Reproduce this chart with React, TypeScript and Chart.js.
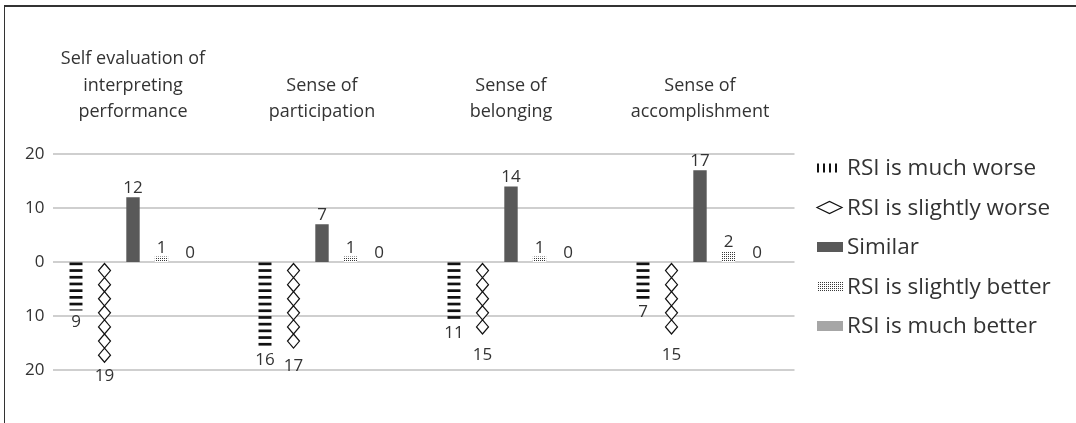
import React, { useEffect, useRef } from 'react';
import { Chart, registerables } from 'chart.js';

Chart.register(...registerables);

const categories: string[][] = [
  ['Self evaluation of', 'interpreting', 'performance'],
  ['Sense of', 'participation'],
  ['Sense of', 'belonging'],
  ['Sense of', 'accomplishment'],
];
const seriesNames = [
  'RSI is much worse',
  'RSI is slightly worse',
  'Similar',
  'RSI is slightly better',
  'RSI is much better',
];
const muchWorse = [9, 16, 11, 7];
const slightlyWorse = [19, 17, 15, 15];
const similar = [12, 7, 14, 17];
const slightlyBetter = [1, 1, 1, 2];
const muchBetter = [0, 0, 0, 0];
const yMin = -20;
const yMax = 20;
const yStep = 10;

const FONT = "'Open Sans', sans-serif";
const TEXT = '#333333';
const SIMILAR_COLOR = '#595959';
const MUCH_BETTER_COLOR = '#a6a6a6';

function makeDotPattern(ctx: CanvasRenderingContext2D) {
  const c = document.createElement('canvas');
  c.width = 2;
  c.height = 2;
  const g = c.getContext('2d')!;
  g.fillStyle = '#ffffff';
  g.fillRect(0, 0, 2, 2);
  g.fillStyle = '#3a3a3a';
  g.fillRect(0, 0, 1, 1);
  return ctx.createPattern(c, 'repeat')!;
}

function drawDiamond(ctx: CanvasRenderingContext2D, cx: number, yt: number, w: number, h: number) {
  ctx.beginPath();
  ctx.moveTo(cx, yt);
  ctx.lineTo(cx + w / 2, yt + h / 2);
  ctx.lineTo(cx, yt + h);
  ctx.lineTo(cx - w / 2, yt + h / 2);
  ctx.closePath();
  ctx.fillStyle = '#ffffff';
  ctx.fill();
  ctx.strokeStyle = '#111111';
  ctx.lineWidth = 1.2;
  ctx.stroke();
}

const customPlugin = {
  id: 'customDraw',
  beforeDatasetsDraw(chart: any) {
    const { ctx, chartArea, scales } = chart;
    const y = scales.y;
    ctx.save();
    ctx.strokeStyle = '#bfbfbf';
    ctx.lineWidth = 1.3;
    y.ticks.forEach((t: any) => {
      const py = y.getPixelForValue(t.value);
      ctx.beginPath();
      ctx.moveTo(chartArea.left + 14.5, py);
      ctx.lineTo(chartArea.right, py);
      ctx.stroke();
    });
    // y tick labels (absolute values)
    ctx.font = `17px ${FONT}`;
    ctx.fillStyle = TEXT;
    ctx.textAlign = 'right';
    ctx.textBaseline = 'middle';
    y.ticks.forEach((t: any) => {
      const py = y.getPixelForValue(t.value);
      ctx.fillText(String(Math.abs(t.value)), chartArea.left + 6, py);
    });
    ctx.restore();
  },
  afterDatasetsDraw(chart: any) {
    const ctx: CanvasRenderingContext2D = chart.ctx;
    // horizontal stripes
    chart.getDatasetMeta(0).data.forEach((bar: any) => {
      const { x, y, base, width } = bar.getProps(['x', 'y', 'base', 'width'], true);
      const top = Math.min(y, base);
      const bottom = Math.max(y, base);
      ctx.save();
      ctx.beginPath();
      ctx.rect(x - width / 2, top, width, bottom - top);
      ctx.clip();
      ctx.fillStyle = '#111111';
      for (let yy = top + 0.5; yy < bottom; yy += 6.7) {
        ctx.fillRect(x - width / 2, yy, width, 2.7);
      }
      ctx.restore();
    });
    // stacked diamonds
    chart.getDatasetMeta(1).data.forEach((bar: any) => {
      const { x, y, base } = bar.getProps(['x', 'y', 'base'], true);
      const top = Math.min(y, base);
      const bottom = Math.max(y, base);
      const dh = 14.1;
      const dw = 12;
      const n = Math.floor((bottom - top - 1.5) / dh);
      ctx.save();
      for (let i = 0; i < n; i++) {
        drawDiamond(ctx, x, top + 1.5 + i * dh, dw, dh);
      }
      ctx.restore();
    });
    // data labels
    ctx.save();
    ctx.font = `17px ${FONT}`;
    ctx.fillStyle = TEXT;
    ctx.textAlign = 'center';
    ctx.textBaseline = 'alphabetic';
    chart.data.datasets.forEach((ds: any, di: number) => {
      chart.getDatasetMeta(di).data.forEach((bar: any, i: number) => {
        const v = ds.data[i];
        const { x, y, base } = bar.getProps(['x', 'y', 'base'], true);
        const label = String(Math.abs(v));
        if (v < 0) {
          ctx.fillText(label, x, Math.max(y, base) + 16.7);
        } else {
          ctx.fillText(label, x, Math.min(y, base) - 4);
        }
      });
    });
    ctx.restore();
  },
  afterDraw(chart: any) {
    const ctx: CanvasRenderingContext2D = chart.ctx;
    const { chartArea } = chart;
    const sx = chartArea.right + 22.5;
    const sw = 26;
    const tx = chartArea.right + 52.5;
    const y0 = chartArea.top + 14;
    const gap = 39.5;
    ctx.save();
    chart.data.datasets.forEach((ds: any, i: number) => {
      const cy = y0 + i * gap;
      if (i === 0) {
        ctx.fillStyle = '#111111';
        for (let k = 0; k < 4; k++) ctx.fillRect(sx + k * 6, cy - 4.5, 2, 9);
      } else if (i === 1) {
        ctx.beginPath();
        ctx.moveTo(sx, cy);
        ctx.lineTo(sx + 12.5, cy - 6);
        ctx.lineTo(sx + 25, cy);
        ctx.lineTo(sx + 12.5, cy + 6);
        ctx.closePath();
        ctx.fillStyle = '#ffffff';
        ctx.fill();
        ctx.strokeStyle = '#111111';
        ctx.lineWidth = 1.2;
        ctx.stroke();
      } else {
        ctx.fillStyle = ds.backgroundColor;
        ctx.fillRect(sx, cy - 5, sw, 10);
      }
      ctx.fillStyle = TEXT;
      ctx.font = `22.5px ${FONT}`;
      ctx.textAlign = 'left';
      ctx.textBaseline = 'middle';
      ctx.fillText(ds.label, tx, cy + 1);
    });
    ctx.restore();
  },
};

export default function App() {
  const ref = useRef<HTMLCanvasElement>(null);
  useEffect(() => {
    const canvas = ref.current!;
    const ctx = canvas.getContext('2d')!;
    const dots = makeDotPattern(ctx);
    const chart = new Chart(canvas, {
      type: 'bar',
      data: {
        labels: categories,
        datasets: [
          { label: seriesNames[0], data: muchWorse.map((v) => -v), backgroundColor: 'rgba(0,0,0,0)' },
          { label: seriesNames[1], data: slightlyWorse.map((v) => -v), backgroundColor: 'rgba(0,0,0,0)' },
          { label: seriesNames[2], data: similar, backgroundColor: SIMILAR_COLOR },
          { label: seriesNames[3], data: slightlyBetter, backgroundColor: dots as any },
          { label: seriesNames[4], data: muchBetter, backgroundColor: MUCH_BETTER_COLOR },
        ],
      },
      options: {
        responsive: false,
        animation: false,
        devicePixelRatio: 1,
        layout: { padding: { left: 0, right: 281.5, top: 0, bottom: 53 } },
        datasets: {
          bar: { categoryPercentage: 0.754, barPercentage: 0.47 },
        },
        plugins: {
          legend: { display: false },
          tooltip: { enabled: false },
        },
        scales: {
          x: {
            position: 'top',
            grid: { display: false, drawTicks: false },
            border: { display: false },
            ticks: {
              autoSkip: false,
              maxRotation: 0,
              minRotation: 0,
              padding: 28.75,
              color: TEXT,
              font: { family: FONT, size: 18, lineHeight: 1.47 },
            },
            afterFit: (s: any) => {
              s.height = 154;
            },
          },
          y: {
            min: yMin,
            max: yMax,
            grid: { display: false, drawTicks: false },
            border: { display: false },
            ticks: {
              display: false,
              stepSize: yStep,
            },
            afterFit: (s: any) => {
              s.width = 38.5;
            },
          },
        },
      },
      plugins: [customPlugin],
    });
    return () => chart.destroy();
  }, []);

  return (
    <div style={{ position: 'fixed', left: 0, top: 0, width: 1076, height: 423, background: '#ffffff', overflow: 'hidden' }}>
      <canvas ref={ref} width={1076} height={423} style={{ position: 'absolute', left: 0, top: 0, width: 1076, height: 423 }} />
      <div
        style={{
          position: 'absolute',
          left: 4,
          top: 5,
          right: -10,
          bottom: -10,
          borderTop: '2px solid #333333',
          borderLeft: '1.5px solid #333333',
          pointerEvents: 'none',
        }}
      />
    </div>
  );
}
